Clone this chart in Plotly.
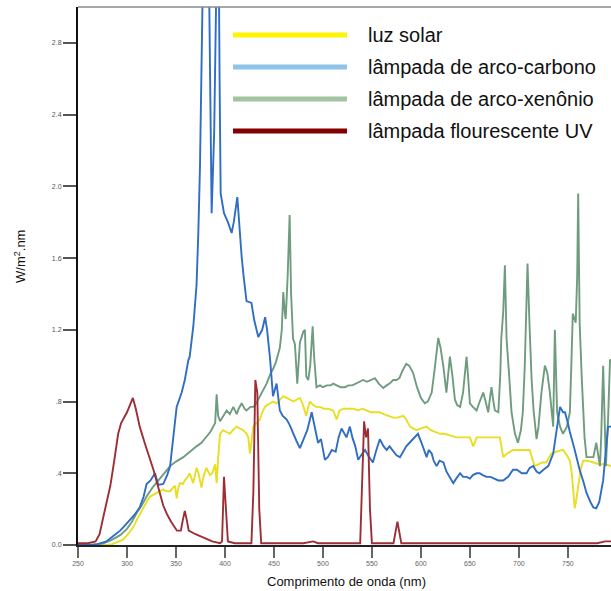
import plotly.graph_objects as go

# ---------------- data ----------------
sun_x = [250, 280, 285, 290, 296, 301, 306.5, 311, 316.6, 320, 323.5, 327, 330, 334, 337, 340, 344, 347, 349, 350.7,
         352, 354, 357, 359, 362, 364, 365.5, 367.5, 369, 371, 373, 376, 378, 381, 384.7, 387, 390, 391.5, 393, 395,
         398, 401, 405, 408, 412, 415, 418.7, 422, 423.8, 425.5, 427, 429, 432, 435.7, 438, 440.8, 443, 446, 449,
         452.7, 456, 459.5, 463, 466, 470, 473, 476.5, 479, 481.6, 483, 485, 486.7, 490, 493, 497, 501, 505, 510.5,
         514, 517, 521, 526, 531, 536, 540, 544.6, 549, 553, 558, 562, 567, 571.7, 576, 582, 585, 588.8, 592, 595.6,
         600, 605.8, 610, 614, 619.4, 624, 630, 636.4, 641, 646, 650, 653.4, 657, 662, 667, 672, 676, 680.6, 684,
         688, 694, 700, 705, 711, 716, 720, 724, 728, 733, 738, 745, 749, 752, 754, 756, 757, 758.5, 760.5, 763,
         765.6, 770, 776, 782, 788, 794]
sun_y = [0, 0, 0.005, 0.015, 0.03, 0.06, 0.10, 0.15, 0.21, 0.24, 0.27, 0.28, 0.29, 0.30, 0.31, 0.30, 0.30, 0.32, 0.33, 0.26,
         0.31, 0.345, 0.34, 0.36, 0.38, 0.40, 0.37, 0.345, 0.38, 0.43, 0.40, 0.32, 0.38, 0.43, 0.39, 0.40, 0.45, 0.345, 0.48, 0.62,
         0.64, 0.63, 0.62, 0.64, 0.66, 0.65, 0.64, 0.62, 0.60, 0.51, 0.58, 0.66, 0.68, 0.70, 0.74, 0.77, 0.78, 0.79, 0.80,
         0.79, 0.81, 0.83, 0.82, 0.81, 0.80, 0.81, 0.82, 0.79, 0.75, 0.72, 0.77, 0.80, 0.78, 0.77, 0.77, 0.76, 0.76, 0.75,
         0.70, 0.75, 0.76, 0.76, 0.76, 0.75, 0.76, 0.75, 0.74, 0.74, 0.74, 0.73, 0.72, 0.71, 0.71, 0.72, 0.70, 0.66, 0.65, 0.64,
         0.65, 0.66, 0.64, 0.63, 0.62, 0.62, 0.61, 0.60, 0.60, 0.60, 0.60, 0.55, 0.60, 0.60, 0.60, 0.60, 0.60, 0.60, 0.49,
         0.51, 0.53, 0.53, 0.53, 0.53, 0.44, 0.45, 0.46, 0.46, 0.51, 0.52, 0.53, 0.50, 0.47, 0.40, 0.28, 0.205, 0.25, 0.325, 0.42,
         0.47, 0.47, 0.46, 0.45, 0.45, 0.44]

carbon_x = [250, 262, 270, 279, 286, 293, 298, 303, 308, 313, 317, 320, 324, 328.6, 332, 337, 341, 344, 347, 350.7,
            355.8, 359, 362.6, 364, 367.7, 369, 371, 372.8, 374.5, 377, 380, 383, 384.5, 386.4, 389, 391.5, 393, 394.5,
            395.6, 399, 403, 406.8, 409, 412.6, 415, 417, 419, 422, 427, 430, 434, 438, 441, 443, 446, 449, 452.7, 456,
            459, 463, 466, 469.7, 473, 476.5, 481, 484, 488.5, 492, 495, 498, 502, 505, 509, 513, 516, 519, 522, 524,
            527.5, 530, 533, 536, 539, 543, 546, 551, 554, 558, 562, 565, 568, 572, 575, 578.6, 582, 585, 590, 594, 597,
            600.6, 603, 605.8, 608, 611, 613, 616, 619, 623, 626, 630, 633, 636, 640, 643, 646.6, 650, 653, 656.8, 660,
            663, 667, 671, 675, 679, 684, 689, 694, 698, 703, 707.8, 711, 714.6, 718, 721, 725, 730, 735, 738, 742, 745,
            747, 750, 752, 756, 759, 762, 766, 769, 773, 776, 779, 782, 786, 789, 791, 794]
carbon_y = [0, 0, 0.005, 0.02, 0.05, 0.08, 0.11, 0.14, 0.17, 0.21, 0.27, 0.34, 0.36, 0.40, 0.335, 0.34, 0.39, 0.44, 0.58, 0.77,
            0.85, 0.92, 1.03, 1.05, 1.22, 1.30, 1.45, 1.74, 2.11, 3.0, 3.8, 3.5, 2.6, 1.85, 2.3, 3.0, 3.8, 2.6,
            1.96, 1.85, 1.80, 1.74, 1.80, 1.94, 1.75, 1.61, 1.50, 1.36, 1.35, 1.25, 1.16, 1.20, 1.27, 1.20, 1.04, 0.83, 0.90, 0.75,
            0.72, 0.70, 0.67, 0.62, 0.58, 0.54, 0.60, 0.64, 0.74, 0.64, 0.57, 0.59, 0.475, 0.49, 0.53, 0.52, 0.60, 0.65, 0.62, 0.60,
            0.66, 0.60, 0.55, 0.475, 0.50, 0.53, 0.50, 0.46, 0.52, 0.59, 0.55, 0.53, 0.55, 0.52, 0.50, 0.49, 0.52, 0.55, 0.58, 0.60, 0.62,
            0.57, 0.53, 0.49, 0.53, 0.51, 0.47, 0.44, 0.47, 0.46, 0.41, 0.37, 0.345, 0.37, 0.40, 0.38, 0.38, 0.37, 0.39, 0.40, 0.40,
            0.39, 0.38, 0.38, 0.37, 0.36, 0.36, 0.38, 0.42, 0.42, 0.40, 0.40, 0.43, 0.44, 0.41, 0.40, 0.42, 0.44, 0.51, 0.62, 0.77, 0.74,
            0.74, 0.68, 0.63, 0.55, 0.48, 0.42, 0.35, 0.29, 0.24, 0.21, 0.205, 0.24, 0.36, 0.52, 0.66, 0.66]

xenon_x = [250, 265, 276, 285, 293, 300, 305, 310, 315, 320, 326, 333.7, 338, 344, 350, 357.5, 362, 366, 371, 376,
           381, 385, 388, 390, 391.5, 393, 395, 398, 401.7, 405, 408.5, 412, 414, 417, 420, 422, 426, 429, 432, 435.7,
           439, 442.5, 446, 449, 452, 456, 458, 459.5, 461, 462, 464, 466, 467.5, 469.5, 471.4, 473.8, 476.5, 480,
           481.6, 483, 485, 487, 489.5, 491, 493.4, 497, 500, 504, 508, 510.5, 514, 518, 522.4, 526, 530, 534, 538,
           541, 545, 549, 553, 557, 561.5, 565, 568, 571.7, 575, 578, 581, 585, 588, 592, 596, 600, 604, 607, 611,
           614, 617.7, 620, 622.8, 626, 628, 629.6, 632, 634.7, 637, 640, 643, 645, 646.6, 648, 650, 653, 656.8, 660,
           663.6, 666, 668.7, 670, 672, 674, 675.5, 679, 681, 682, 684, 685.7, 687.4, 690, 692.5, 696, 699, 702, 704,
           706, 708.8, 711, 713, 715, 718, 720, 723, 726.5, 729, 731.6, 735, 736.7, 739, 742, 745, 749, 752, 753.5,
           755, 758, 759.5, 760.5, 761.3, 762, 764, 765.6, 767, 769, 772, 776, 779, 781, 782.7, 784, 786, 787, 788.8,
           791, 793, 794]
xenon_y = [0, 0, 0.01, 0.03, 0.055, 0.09, 0.13, 0.18, 0.22, 0.27, 0.32, 0.37, 0.40, 0.44, 0.465, 0.49, 0.51, 0.53, 0.55, 0.57,
           0.60, 0.63, 0.66, 0.68, 0.84, 0.72, 0.69, 0.72, 0.75, 0.73, 0.77, 0.73, 0.76, 0.79, 0.76, 0.75, 0.77, 0.77, 0.79, 0.83,
           0.86, 0.90, 0.95, 0.98, 1.02, 1.10, 1.20, 1.41, 1.30, 1.26, 1.50, 1.84, 1.40, 1.15, 1.12, 0.90, 1.13, 1.19,
           1.20, 0.94, 0.92, 1.00, 1.22, 1.05, 0.88, 0.89, 0.88, 0.89, 0.89, 0.90, 0.89, 0.88, 0.88, 0.89, 0.89, 0.90, 0.91,
           0.92, 0.91, 0.92, 0.93, 0.90, 0.875, 0.89, 0.90, 0.92, 0.92, 0.93, 0.97, 1.01, 1.00, 0.96, 0.88, 0.82, 0.79, 0.80, 0.85,
           0.98, 1.155, 1.10, 1.00, 0.85, 0.95, 1.05, 0.95, 0.81, 0.78, 0.77, 0.85, 0.97, 1.05, 0.95, 0.79, 0.77, 0.75, 0.80,
           0.85, 0.80, 0.74, 0.80, 0.88, 0.80, 0.75, 0.74, 0.95, 1.15, 1.30, 1.56, 1.15, 0.95, 0.74, 0.62, 0.57, 0.64, 0.74,
           1.00, 1.57, 1.20, 0.92, 0.75, 0.59, 0.66, 0.85, 1.00, 0.96, 0.85, 0.66, 1.20, 0.74, 0.66, 0.62, 0.66, 0.74, 1.00,
           1.29, 1.24, 1.50, 1.96, 1.50, 1.24, 0.95, 0.74, 0.60, 0.49, 0.49, 0.49, 0.57, 0.50, 0.44, 0.60, 1.00, 0.80, 0.44,
           0.70, 1.03, 1.03]

uv_x = [250, 260, 268, 272, 276, 280, 283, 287, 291, 294, 297, 300, 303, 306, 309, 313, 318, 323, 327, 330, 334, 337,
        341, 345, 351, 355, 357, 359, 361, 363, 370, 378, 387, 395, 397, 399, 401, 403, 410, 427, 429, 431, 433, 435,
        437, 480, 490, 495, 538, 540, 542, 544, 546, 548, 550, 572, 576, 580, 780, 788, 794]
uv_y = [0.01, 0.01, 0.02, 0.06, 0.16, 0.25, 0.33, 0.47, 0.62, 0.68, 0.71, 0.74, 0.78, 0.82, 0.76, 0.66, 0.57, 0.49, 0.42, 0.36,
        0.27, 0.22, 0.17, 0.13, 0.08, 0.08, 0.14, 0.19, 0.14, 0.08, 0.06, 0.04, 0.02, 0.01, 0.02, 0.38, 0.20, 0.02, 0.01, 0.01,
        0.30, 0.92, 0.85, 0.20, 0.01, 0.01, 0.02, 0.01, 0.01, 0.35, 0.69, 0.60, 0.65, 0.20, 0.01, 0.01, 0.13, 0.01, 0.01, 0.02,
        0.02]

legend_names = ["luz solar", "lâmpada de arco-carbono", "lâmpada de arco-xenônio", "lâmpada flourescente UV"]
legend_colors = ["#FFF500", "#8EC3EA", "#A2C4A0", "#820000"]
line_colors = ["#E8DE22", "#2F6EC4", "#6F9C7E", "#9E2E36"]

x_ticks = list(range(250, 751, 50))
y_ticks = [0.0, 0.4, 0.8, 1.2, 1.6, 2.0, 2.4, 2.8]
y_ticktext = ["0.0", ".4", ".8", "1.2", "1.6", "2.0", "2.4", "2.8"]

# ---------------- figure ----------------
fig = go.Figure()
series = [(sun_x, sun_y), (xenon_x, xenon_y), (carbon_x, carbon_y), (uv_x, uv_y)]
series_colors = [line_colors[0], line_colors[2], line_colors[1], line_colors[3]]
for (xs, ys), col in zip(series, series_colors):
    fig.add_trace(go.Scatter(x=xs, y=ys, mode="lines", line=dict(color=col, width=1.9),
                             showlegend=False, hoverinfo="skip"))

W, H = 611, 591
L, R, T, B = 78, 0, 7, 46
pw, ph = W - L - R, H - T - B

def px(xp):
    return (xp - L) / pw

def py(yp):
    return (H - B - yp) / ph

shapes = [dict(type="line", xref="paper", yref="paper", x0=0, x1=1, y0=1, y1=1,
               line=dict(color="#8a8a8a", width=1.5))]
annotations = []
rows = [35, 67, 99, 131]
for name, col, r in zip(legend_names, legend_colors, rows):
    shapes.append(dict(type="line", xref="paper", yref="paper", x0=px(233), x1=px(347),
                       y0=py(r), y1=py(r), line=dict(color=col, width=5)))
    annotations.append(dict(xref="paper", yref="paper", x=px(366), y=py(r), xanchor="left",
                            yanchor="middle", showarrow=False, text=name,
                            font=dict(size=20, color="#111")))

annotations.append(dict(xref="paper", yref="paper", x=px(20), y=py(257), xanchor="center",
                        yanchor="middle", showarrow=False, textangle=-90,
                        text="W/m<sup>2</sup>.nm", font=dict(size=13, color="#111")))
annotations.append(dict(xref="paper", yref="paper", x=px(346), y=py(581), xanchor="center",
                        yanchor="middle", showarrow=False,
                        text="Comprimento de onda (nm)", font=dict(size=13, color="#111")))

fig.update_layout(
    width=W, height=H,
    margin=dict(l=L, r=R, t=T, b=B, pad=0),
    paper_bgcolor="white", plot_bgcolor="white",
    font=dict(family="Liberation Sans, Arial, sans-serif"),
    shapes=shapes, annotations=annotations,
    showlegend=False,
)
fig.update_xaxes(range=[250, 794], tickvals=x_ticks, ticktext=[str(v) for v in x_ticks],
                 showgrid=False, zeroline=False, showline=True, linecolor="#222", linewidth=1.5,
                 ticks="outside", ticklen=11, tickwidth=1.5, tickcolor="#666",
                 tickfont=dict(size=7, color="#666"))
fig.update_yaxes(range=[0, 3.0], tickvals=y_ticks, ticktext=y_ticktext,
                 showgrid=False, zeroline=False, showline=True, linecolor="#111", linewidth=2,
                 ticks="outside", ticklen=13, tickwidth=1.5, tickcolor="#555",
                 tickfont=dict(size=7, color="#555"))

fig.write_html("out.html")
